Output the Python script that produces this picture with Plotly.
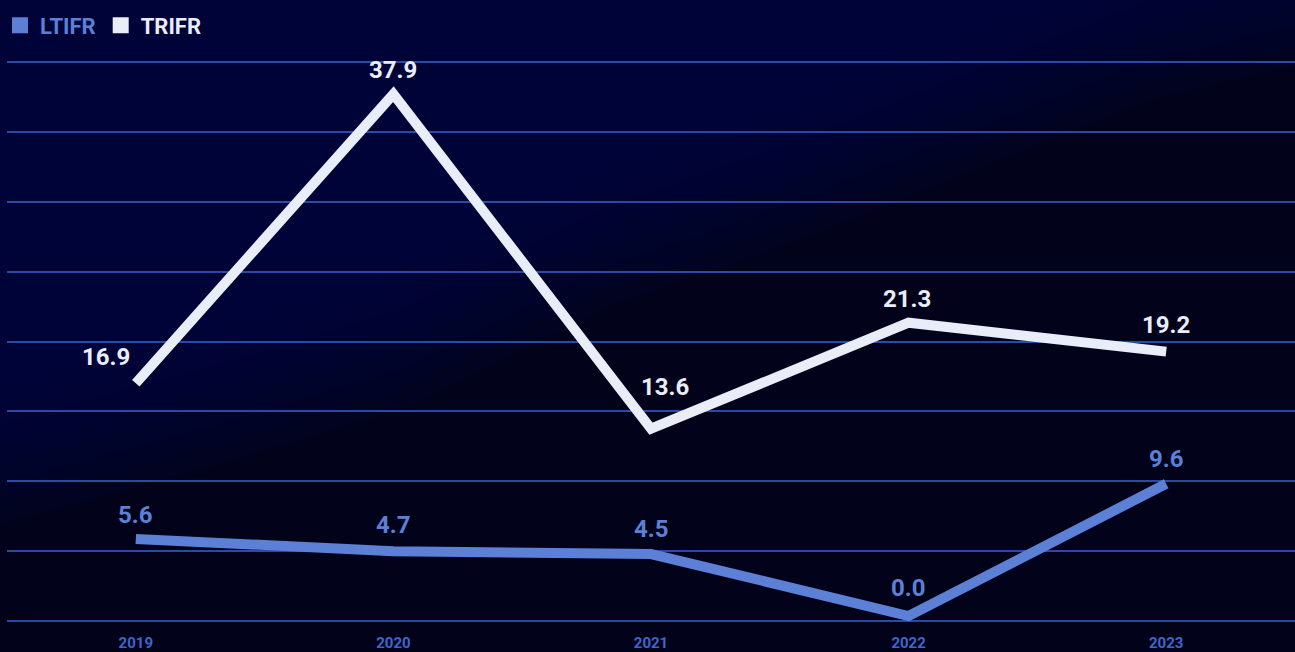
import plotly.graph_objects as go
import numpy as np

years = ["2019", "2020", "2021", "2022", "2023"]
ltifr = [5.6, 4.7, 4.5, 0.0, 9.6]
trifr = [16.9, 37.9, 13.6, 21.3, 19.2]
series_names = ["LTIFR", "TRIFR"]

# styles
C_LT = "#5b80d6"
C_TR = "#e9edf8"
GRID = "#2a4aa6"
TICK = "#3d66cc"
FONT = "Roboto"

# label offsets (style, px)
lt_shift = [(0, 24), (0, 26), (0, 25), (0, 28), (0, 25)]
tr_shift = [(-30, 26), (0, 24), (14, 42), (-2, 24), (0, 27)]

W, H = 1295, 652
ML, MR, MT, MB = 7, 0, 59, 28
grid_lo, grid_hi = -0.36, 40.23
rng_lo, rng_hi = -0.58, 40.45

fig = go.Figure()
fig.add_trace(go.Scatter(x=years, y=trifr, mode="lines", line=dict(color=C_TR, width=10),
                         showlegend=False, hoverinfo="skip"))
fig.add_trace(go.Scatter(x=years, y=ltifr, mode="lines", line=dict(color=C_LT, width=10),
                         showlegend=False, hoverinfo="skip"))
# legend entries
for name, col in zip(series_names, [C_LT, C_TR]):
    fig.add_trace(go.Scatter(x=[None], y=[None], mode="markers",
                             name=f'<span style="color:{col}">{name}</span>',
                             marker=dict(symbol="square", size=18, color=col)))

ann = []
for vals, col, shifts in [(ltifr, C_LT, lt_shift), (trifr, C_TR, tr_shift)]:
    for i, (v, (dx, dy)) in enumerate(zip(vals, shifts)):
        ann.append(dict(x=i, y=v, xref="x", yref="y", text=f"<b>{v:.1f}</b>", showarrow=False,
                        xshift=dx, yshift=dy,
                        font=dict(family=FONT, size=24, color=col),
                        xanchor="center", yanchor="middle"))

# background shapes (pixel -> paper conversion)
pw = W - ML - MR
ph = H - MT - MB
def px(x):
    return (x - ML) / pw
def py(y):
    return (H - MB - y) / ph

def poly(pts):
    return "M " + " L ".join(f"{px(a):.4f},{py(b):.4f}" for a, b in pts) + " Z"

shapes = []
# soft diagonal glow: upper-left navy, lower-right near black
edge = [(1320, -20), (1150, 20), (950, 100), (800, 160), (600, 230), (400, 330), (200, 390), (-20, 450)]
for k in range(8):
    off = 20 * k - 60
    pts = [(-20, -20), (1320, -20)] + [(a, b + off) for a, b in edge] + [(-20, -20)]
    shapes.append(dict(type="path", xref="paper", yref="paper", path=poly(pts),
                       fillcolor="#020646", opacity=0.16, line=dict(width=0), layer="below"))

fig.update_layout(
    width=W, height=H,
    margin=dict(l=ML, r=MR, t=MT, b=MB, autoexpand=False),
    paper_bgcolor="#02031a",
    plot_bgcolor="rgba(0,0,0,0)",
    font=dict(family=FONT),
    showlegend=True,
    legend=dict(orientation="h", x=0.0, y=0.993, xref="container", yref="container",
                xanchor="left", yanchor="top",
                font=dict(family=FONT, size=22, color=C_TR, weight="bold"),
                bgcolor="rgba(0,0,0,0)", itemwidth=30, traceorder="normal"),
    xaxis=dict(type="category", range=[-0.5, 4.5], showgrid=False, zeroline=False, automargin=False,
               showline=False, ticks="", ticklabelstandoff=8,
               tickfont=dict(family=FONT, size=15, color=TICK, weight="bold")),
    yaxis=dict(range=[rng_lo, rng_hi], tickvals=list(np.linspace(grid_lo, grid_hi, 9)),
               showticklabels=False, automargin=False,
               showgrid=True, gridcolor=GRID, gridwidth=1.5, zeroline=False, showline=False, ticks=""),
    annotations=ann,
    shapes=shapes,
)

fig.write_html("out.html", config={"displayModeBar": False},
               post_script="document.body.style.margin='0';document.body.style.background='#02031a';document.body.style.overflow='hidden';")
